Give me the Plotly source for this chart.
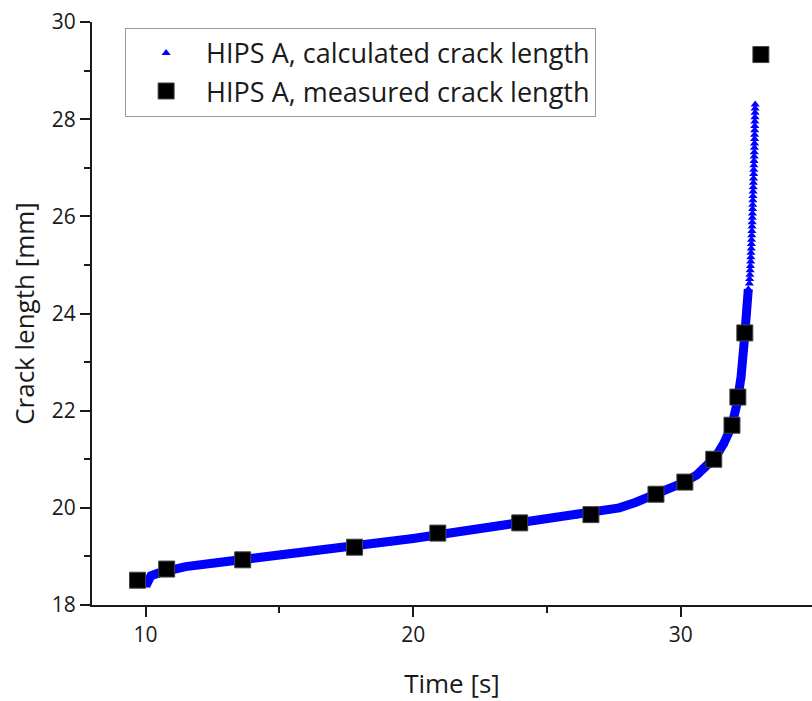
import plotly.graph_objects as go

# Calculated crack length (HIPS A) vs. time
calc_time = [
    10.02, 10.08, 10.2, 10.5, 10.8, 11.5, 12.5, 13.6, 14.5, 15.5, 16.5, 17.8,
    19.0, 20.0, 21.0, 22.0, 23.0, 24.0, 25.0, 26.0, 26.6, 27.2, 27.7, 28.3, 29.0,
    29.6, 30.1, 30.6, 31.0, 31.3, 31.6, 31.9, 32.1, 32.25, 32.38, 32.47,
    32.52, 32.56, 32.57, 32.58, 32.59, 32.60, 32.61, 32.615, 32.62, 32.63,
    32.635, 32.64, 32.65, 32.655, 32.66, 32.665, 32.67, 32.675, 32.68, 32.685,
    32.69, 32.695, 32.70, 32.705, 32.71, 32.715, 32.72, 32.725, 32.73, 32.735,
    32.74, 32.745, 32.75, 32.752, 32.755, 32.758, 32.76, 32.763, 32.766,
    32.77, 32.772, 32.775, 32.778,
]
calc_length = [
    18.40, 18.52, 18.60, 18.66, 18.71, 18.79, 18.86, 18.93, 18.99, 19.05, 19.11, 19.19,
    19.28, 19.37, 19.45, 19.53, 19.61, 19.68, 19.75, 19.82, 19.87, 19.93, 20.00, 20.11, 20.26,
    20.39, 20.52, 20.68, 20.86, 21.05, 21.32, 21.68, 22.15, 22.70, 23.50, 24.20,
    24.50, 24.62, 24.71, 24.80, 24.89, 24.98, 25.07, 25.16, 25.25, 25.34,
    25.43, 25.52, 25.61, 25.70, 25.79, 25.88, 25.97, 26.06, 26.15, 26.24,
    26.33, 26.42, 26.51, 26.60, 26.69, 26.78, 26.87, 26.96, 27.05, 27.14,
    27.23, 27.32, 27.41, 27.50, 27.59, 27.68, 27.77, 27.86, 27.95,
    28.04, 28.13, 28.22, 28.30,
]

# Measured crack length (HIPS A)
meas_time = [9.70, 10.79, 13.63, 17.81, 20.92, 23.98, 26.64, 29.07, 30.15,
             31.23, 31.91, 32.13, 32.39, 32.99]
meas_length = [18.51, 18.74, 18.93, 19.19, 19.48, 19.69, 19.86, 20.28, 20.53,
               21.00, 21.70, 22.28, 23.60, 29.33]

BLUE = "#0000FF"
INK = "#1a1a1a"
FONT = "Open Sans"

# the dense lower part of the calculated series reads as a solid band
band_t = [t for t, v in zip(calc_time, calc_length) if v <= 24.6]
band_v = [v for v in calc_length if v <= 24.6]

fig = go.Figure()
fig.add_trace(go.Scatter(
    x=band_t, y=band_v, mode="lines",
    line=dict(color=BLUE, width=9),
    showlegend=False, hoverinfo="skip",
))
fig.add_trace(go.Scatter(
    x=calc_time, y=calc_length, mode="markers",
    marker=dict(symbol="triangle-up", size=8, color=BLUE, line=dict(width=0)),
    name="HIPS A, calculated crack length", legendgroup="a",
))
fig.add_trace(go.Scatter(
    x=meas_time, y=meas_length, mode="markers",
    marker=dict(symbol="square", size=16, color="black",
                line=dict(color="#444444", width=1)),
    name="HIPS A, measured crack length", legendgroup="b",
))

axis_common = dict(
    showline=True, linecolor=INK, linewidth=2, mirror=False,
    showgrid=False, zeroline=False, ticks="outside", ticklen=10, tickwidth=2,
    tickcolor=INK, tickfont=dict(family=FONT, size=21, color=INK),
)

fig.update_layout(
    width=812, height=701,
    margin=dict(l=92, r=0, t=22, b=96),
    paper_bgcolor="white", plot_bgcolor="white",
    font=dict(family=FONT, color=INK),
    xaxis=dict(
        range=[8, 34.9], tickmode="array", tickvals=[10, 20, 30],
        minor=dict(ticks="outside", ticklen=6, tickwidth=2, tickcolor=INK,
                   tickvals=[15, 25]),
        title=dict(text="Time [s]", font=dict(family=FONT, size=26), standoff=28),
        **axis_common,
    ),
    yaxis=dict(
        range=[18, 30], tickmode="array", tickvals=[18, 20, 22, 24, 26, 28, 30],
        minor=dict(ticks="outside", ticklen=6, tickwidth=2, tickcolor=INK,
                   tickvals=[19, 21, 23, 25, 27, 29]),
        title=dict(text="Crack length [mm]", font=dict(family=FONT, size=26), standoff=10),
        **axis_common,
    ),
    legend=dict(
        x=0.046, y=0.99, xanchor="left", yanchor="top",
        bordercolor="#9a9a9a", borderwidth=1, bgcolor="white",
        font=dict(family=FONT, size=27, color=INK),
        traceorder="grouped", tracegroupgap=0, itemwidth=70,
    ),
)

fig.write_html("out.html")
